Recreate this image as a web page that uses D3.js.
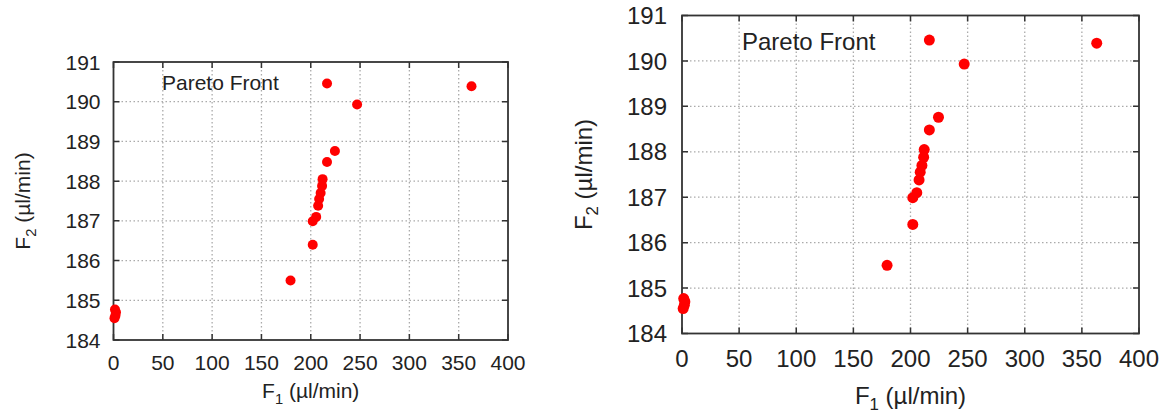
<!DOCTYPE html>
<html lang="en">
<head>
<meta charset="UTF-8">
<title>Pareto Front</title>
<script src="https://d3js.org/d3.v7.min.js"></script>
<style>
  body { margin: 0; background: #fff; }
  text { font-family: "Liberation Sans", Arial, sans-serif; fill: #222; }
</style>
</head>
<body>
<div id="chart"></div>
<script>
// Pareto front points: F1 and F2 in µl/min
const f1 = [1, 2, 2.5, 1.5, 179.5, 202, 202, 205.5, 207.5, 208.5, 210, 211.5, 212, 216.5, 224.5, 247, 216.5, 363];
const f2 = [184.55, 184.62, 184.7, 184.77, 185.5, 186.4, 186.99, 187.1, 187.38, 187.55, 187.7, 187.88, 188.05, 188.48, 188.76, 189.93, 190.46, 190.39];
const xTicks = [0, 50, 100, 150, 200, 250, 300, 350, 400];
const yTicks = [184, 185, 186, 187, 188, 189, 190, 191];
const legendLabel = "Pareto Front";

const points = f1.map((v, i) => ({ x: v, y: f2[i] }));

const svg = d3.select('#chart').append('svg')
    .attr('width', 1170)
    .attr('height', 414);

// two copies of the same plot, different sizes
const panels = [
    { left: 113.5, right: 508, top: 62, bottom: 340, r: 5, font: 21, tickPad: 30, yPad: 13, yLabX: 30, xLabY: 398, legX: 162, legY: 90 },
    { left: 682, right: 1139, top: 15.5, bottom: 333.5, r: 5.5, font: 24, tickPad: 33, yPad: 15, yLabX: 592, xLabY: 404, legX: 742, legY: 50 }
];

panels.forEach(p => {
    const x = d3.scaleLinear().domain([0, 400]).range([p.left, p.right]);
    const y = d3.scaleLinear().domain([184, 191]).range([p.bottom, p.top]);
    const g = svg.append('g');
    const tl = 6;

    // dotted grid
    g.selectAll('.gx').data(xTicks.slice(1, -1)).enter().append('line')
        .attr('x1', d => x(d)).attr('x2', d => x(d))
        .attr('y1', p.top).attr('y2', p.bottom)
        .attr('stroke', '#aaa').attr('stroke-width', 1.3).attr('stroke-dasharray', '1.5,2.5');
    g.selectAll('.gy').data(yTicks.slice(1, -1)).enter().append('line')
        .attr('y1', d => y(d)).attr('y2', d => y(d))
        .attr('x1', p.left).attr('x2', p.right)
        .attr('stroke', '#aaa').attr('stroke-width', 1.3).attr('stroke-dasharray', '1.5,2.5');

    // ticks, mirrored on all sides
    g.selectAll('.tb').data(xTicks).enter().append('path')
        .attr('d', d => `M${x(d)},${p.bottom}v${-tl}M${x(d)},${p.top}v${tl}`)
        .attr('stroke', '#333').attr('stroke-width', 1.5);
    g.selectAll('.tl').data(yTicks).enter().append('path')
        .attr('d', d => `M${p.left},${y(d)}h${tl}M${p.right},${y(d)}h${-tl}`)
        .attr('stroke', '#333').attr('stroke-width', 1.5);

    // frame
    g.append('rect')
        .attr('x', p.left).attr('y', p.top)
        .attr('width', p.right - p.left).attr('height', p.bottom - p.top)
        .attr('fill', 'none').attr('stroke', '#333').attr('stroke-width', 1.8);

    // tick labels
    g.selectAll('.xl').data(xTicks).enter().append('text')
        .attr('x', d => x(d)).attr('y', p.bottom + p.tickPad)
        .attr('text-anchor', 'middle').attr('font-size', p.font)
        .text(d => d);
    g.selectAll('.yl').data(yTicks).enter().append('text')
        .attr('x', p.left - p.yPad).attr('y', d => y(d))
        .attr('dy', '0.36em')
        .attr('text-anchor', 'end').attr('font-size', p.font)
        .text(d => d);

    // axis titles
    const xt = g.append('text')
        .attr('x', (p.left + p.right) / 2).attr('y', p.xLabY)
        .attr('text-anchor', 'middle').attr('font-size', p.font);
    xt.append('tspan').text('F');
    xt.append('tspan').attr('font-size', p.font * 0.7).attr('dy', 6).text('1');
    xt.append('tspan').attr('dy', -6).text(' (µl/min)');

    const yt = g.append('text')
        .attr('transform', `translate(${p.yLabX},${(p.top + p.bottom) / 2}) rotate(-90)`)
        .attr('text-anchor', 'middle').attr('font-size', p.font);
    yt.append('tspan').text('F');
    yt.append('tspan').attr('font-size', p.font * 0.7).attr('dy', 6).text('2');
    yt.append('tspan').attr('dy', -6).text(' (µl/min)');

    // legend label
    g.append('text')
        .attr('x', p.legX).attr('y', p.legY)
        .attr('font-size', p.font)
        .text(legendLabel);

    // points
    g.selectAll('circle').data(points).enter().append('circle')
        .attr('cx', d => x(d.x)).attr('cy', d => y(d.y))
        .attr('r', p.r).attr('fill', '#f00');
});
</script>
</body>
</html>
